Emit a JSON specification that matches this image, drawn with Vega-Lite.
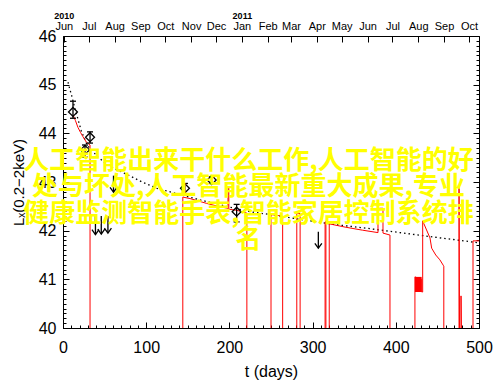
{
  "$schema": "https://vega.github.io/schema/vega-lite/v6.json",
  "width": 416,
  "height": 292,
  "autosize": "none",
  "padding": {"left": 63, "top": 36, "right": 21, "bottom": 57},
  "background": "white",
  "config": {
    "view": {"stroke": null},
    "axis": {
      "grid": false,
      "domainColor": "black",
      "tickColor": "black",
      "labelColor": "black",
      "titleColor": "black",
      "labelFont": "Liberation Sans",
      "titleFont": "Liberation Sans",
      "titleFontWeight": "normal",
      "labelFlush": false,
      "labelOverlap": false,
      "domainWidth": 1,
      "tickWidth": 1
    }
  },
  "datasets": {
    "dotted": [
      {"t": 6, "L": 45.05}, {"t": 8, "L": 44.92}, {"t": 10, "L": 44.8}, {"t": 13, "L": 44.6},
      {"t": 17, "L": 44.35}, {"t": 22, "L": 44.05}, {"t": 29, "L": 43.76}, {"t": 36, "L": 43.62},
      {"t": 45, "L": 43.47}, {"t": 51, "L": 43.38}, {"t": 65, "L": 43.25}, {"t": 80, "L": 43.13},
      {"t": 95, "L": 43.0}, {"t": 113, "L": 42.87}, {"t": 141, "L": 42.74}, {"t": 165, "L": 42.63},
      {"t": 180, "L": 42.57}, {"t": 201, "L": 42.48}, {"t": 225, "L": 42.39}, {"t": 257, "L": 42.31},
      {"t": 285, "L": 42.23}, {"t": 325, "L": 42.13}, {"t": 365, "L": 42.05}, {"t": 405, "L": 41.96},
      {"t": 445, "L": 41.87}, {"t": 473, "L": 41.81}, {"t": 500, "L": 41.75}
    ],
    "red": [
      {"i": 1, "t": 12, "L": 44.38}, {"i": 2, "t": 15, "L": 44.26}, {"i": 3, "t": 18, "L": 44.12},
      {"i": 4, "t": 21, "L": 44.02}, {"i": 5, "t": 24, "L": 43.93}, {"i": 6, "t": 28, "L": 43.82},
      {"i": 7, "t": 32.5, "L": 43.76}, {"i": 8, "t": 32.5, "L": 39.9}, {"i": 9, "t": 144, "L": 39.9},
      {"i": 10, "t": 144, "L": 42.69}, {"i": 11, "t": 152.6, "L": 42.66}, {"i": 12, "t": 172.7, "L": 42.56},
      {"i": 13, "t": 188.7, "L": 42.49}, {"i": 14, "t": 198.3, "L": 42.46}, {"i": 15, "t": 198.3, "L": 42.88},
      {"i": 16, "t": 199.3, "L": 42.88}, {"i": 17, "t": 199.3, "L": 42.44}, {"i": 18, "t": 208.7, "L": 42.42},
      {"i": 19, "t": 221, "L": 42.36}, {"i": 20, "t": 221, "L": 39.9}, {"i": 21, "t": 250, "L": 39.9},
      {"i": 22, "t": 250, "L": 42.33}, {"i": 23, "t": 264, "L": 42.3}, {"i": 24, "t": 264, "L": 39.9},
      {"i": 25, "t": 281, "L": 39.9}, {"i": 26, "t": 281, "L": 42.36}, {"i": 27, "t": 285, "L": 42.35},
      {"i": 28, "t": 285, "L": 39.9}, {"i": 29, "t": 315, "L": 39.9}, {"i": 30, "t": 315, "L": 42.18},
      {"i": 31, "t": 316, "L": 42.18}, {"i": 32, "t": 316, "L": 39.9}, {"i": 33, "t": 320, "L": 39.9},
      {"i": 34, "t": 320, "L": 42.14}, {"i": 35, "t": 340, "L": 42.07}, {"i": 36, "t": 360, "L": 42.01},
      {"i": 37, "t": 378.6, "L": 41.96}, {"i": 38, "t": 378.6, "L": 42.46}, {"i": 39, "t": 384.6, "L": 42.46},
      {"i": 40, "t": 384.6, "L": 41.95}, {"i": 41, "t": 393, "L": 41.91}, {"i": 42, "t": 393, "L": 39.9},
      {"i": 43, "t": 423, "L": 39.9}, {"i": 44, "t": 423, "L": 41.05}, {"i": 45, "t": 431.1, "L": 41.0},
      {"i": 46, "t": 431.1, "L": 40.74}, {"i": 47, "t": 432.3, "L": 40.74}, {"i": 48, "t": 432.3, "L": 42.2},
      {"i": 49, "t": 441.1, "L": 41.85}, {"i": 50, "t": 443.1, "L": 41.64}, {"i": 51, "t": 448, "L": 41.5},
      {"i": 52, "t": 453, "L": 41.4}, {"i": 53, "t": 457, "L": 41.29}, {"i": 54, "t": 457.7, "L": 41.27},
      {"i": 55, "t": 457.7, "L": 39.9}, {"i": 56, "t": 476, "L": 39.9}, {"i": 57, "t": 476, "L": 42.9},
      {"i": 58, "t": 476.6, "L": 39.9}, {"i": 59, "t": 478.4, "L": 39.9}, {"i": 60, "t": 478.4, "L": 40.66},
      {"i": 61, "t": 478.9, "L": 39.9}, {"i": 62, "t": 492.8, "L": 39.9}, {"i": 63, "t": 492.8, "L": 41.79},
      {"i": 64, "t": 500, "L": 41.79}
    ],
    "block": [
      {"t1": 423, "t2": 431.1, "lo": 40.74, "hi": 41.05}
    ],
    "pts": [
      {"t": 12, "L": 44.44, "lo": 44.31, "hi": 44.66},
      {"t": 26.4, "L": 43.66, "lo": 43.51, "hi": 43.76},
      {"t": 32.5, "L": 43.92, "lo": 43.8, "hi": 44.03},
      {"t": 146.6, "L": 42.87, "lo": 42.73, "hi": 42.97},
      {"t": 178.7, "L": 43.04, "lo": 42.97, "hi": 43.11},
      {"t": 208.7, "L": 42.39, "lo": 42.18, "hi": 42.54}
    ],
    "arrows": [
      {"t": 39, "top": 42.3, "tip": 41.92},
      {"t": 46, "top": 42.3, "tip": 41.93},
      {"t": 54, "top": 42.3, "tip": 41.95},
      {"t": 60.7, "top": 43.13, "tip": 42.79},
      {"t": 306.9, "top": 41.98, "tip": 41.64}
    ],
    "note": [
      {"t": 223, "L": 43.44, "txt": "人工智能出来干什么工作,人工智能的好\n处与坏处,人工智能最新重大成果,专业\n健康监测智能手表,智能家居控制系统排\n名"}
    ]
  },
  "layer": [
    {
      "data": {"name": "dotted"},
      "mark": {"type": "line", "color": "black", "strokeWidth": 1.3, "strokeDash": [1.5, 3]},
      "encoding": {
        "x": {"field": "t", "type": "quantitative", "scale": {"domain": [0, 500], "nice": false, "zero": false},
          "axis": {"orient": "bottom", "values": [0, 100, 200, 300, 400, 500], "format": "d", "tickSize": -6, "labelPadding": 17, "labelFontSize": 16, "title": "t (days)", "titleFontSize": 16, "titlePadding": 8}},
        "y": {"field": "L", "type": "quantitative", "scale": {"domain": [40, 46], "nice": false, "zero": false},
          "axis": {"orient": "left", "values": [40, 41, 42, 43, 44, 45, 46], "format": "d", "tickSize": -6, "labelPadding": 13, "labelFontSize": 16, "title": "Lₓ(0.2−2keV)", "titleFontSize": 15, "titlePadding": 12}}
      }
    },
    {
      "data": {"name": "red"},
      "mark": {"type": "line", "color": "#ff0000", "strokeWidth": 1, "clip": true},
      "encoding": {
        "x": {"field": "t", "type": "quantitative", "scale": {"domain": [0, 500], "nice": false, "zero": false},
          "axis": {"orient": "bottom", "values": [0,10,20,30,40,50,60,70,80,90,100,110,120,130,140,150,160,170,180,190,200,210,220,230,240,250,260,270,280,290,300,310,320,330,340,350,360,370,380,390,400,410,420,430,440,450,460,470,480,490,500], "tickSize": -3, "labels": false, "domain": false, "title": null}},
        "y": {"field": "L", "type": "quantitative", "scale": {"domain": [40, 46], "nice": false, "zero": false},
          "axis": {"orient": "left", "values": [40,40.1,40.2,40.3,40.4,40.5,40.6,40.7,40.8,40.9,41,41.1,41.2,41.3,41.4,41.5,41.6,41.7,41.8,41.9,42,42.1,42.2,42.3,42.4,42.5,42.6,42.7,42.8,42.9,43,43.1,43.2,43.3,43.4,43.5,43.6,43.7,43.8,43.9,44,44.1,44.2,44.3,44.4,44.5,44.6,44.7,44.8,44.9,45,45.1,45.2,45.3,45.4,45.5,45.6,45.7,45.8,45.9,46], "tickSize": -3, "labels": false, "domain": false, "title": null}},
        "order": {"field": "i", "type": "quantitative"}
      }
    },
    {
      "data": {"name": "block"},
      "mark": {"type": "rect", "color": "#ff0000"},
      "encoding": {
        "x": {"field": "t1", "type": "quantitative", "scale": {"domain": [0, 500], "nice": false, "zero": false}, "axis": null},
        "x2": {"field": "t2"},
        "y": {"field": "lo", "type": "quantitative", "scale": {"domain": [40, 46], "nice": false, "zero": false}, "axis": null},
        "y2": {"field": "hi"}
      }
    },
    {
      "data": {"name": "pts"},
      "mark": {"type": "rule", "color": "black", "strokeWidth": 1.3},
      "encoding": {
        "x": {"field": "t", "type": "quantitative", "scale": {"domain": [0, 500], "nice": false, "zero": false},
          "axis": {"orient": "top", "values": [1,31,62,93,123,154,184,215,246,274,305,335,366,396,427,458,488], "labelExpr": "['Jun','Jul','Aug','Sep','Oct','Nov','Dec','Jan','Feb','Mar','Apr','May','Jun','Jul','Aug','Sep','Oct'][indexof([1,31,62,93,123,154,184,215,246,274,305,335,366,396,427,458,488], datum.value)]", "tickSize": -6, "labelPadding": 11, "labelFontSize": 11, "title": null}},
        "y": {"field": "lo", "type": "quantitative", "scale": {"domain": [40, 46], "nice": false, "zero": false},
          "axis": {"orient": "right", "values": [40, 41, 42, 43, 44, 45, 46], "tickSize": -6, "labels": false, "title": null}},
        "y2": {"field": "hi"}
      }
    },
    {
      "data": {"name": "pts"},
      "mark": {"type": "point", "shape": "M-1,0L1,0", "size": 36, "filled": false, "stroke": "black", "strokeWidth": 1.3, "opacity": 1},
      "encoding": {
        "x": {"field": "t", "type": "quantitative", "scale": {"domain": [0, 500], "nice": false, "zero": false},
          "axis": {"orient": "top", "values": [1, 215], "labelExpr": "datum.value < 100 ? '2010' : '2011'", "ticks": false, "domain": false, "labelPadding": 16, "labelFontSize": 9, "labelFontWeight": "bold", "title": null}},
        "y": {"field": "lo", "type": "quantitative", "scale": {"domain": [40, 46], "nice": false, "zero": false},
          "axis": {"orient": "right", "values": [40,40.1,40.2,40.3,40.4,40.5,40.6,40.7,40.8,40.9,41,41.1,41.2,41.3,41.4,41.5,41.6,41.7,41.8,41.9,42,42.1,42.2,42.3,42.4,42.5,42.6,42.7,42.8,42.9,43,43.1,43.2,43.3,43.4,43.5,43.6,43.7,43.8,43.9,44,44.1,44.2,44.3,44.4,44.5,44.6,44.7,44.8,44.9,45,45.1,45.2,45.3,45.4,45.5,45.6,45.7,45.8,45.9,46], "tickSize": -3, "labels": false, "domain": false, "title": null}}
      }
    },
    {
      "data": {"name": "pts"},
      "mark": {"type": "point", "shape": "M-1,0L1,0", "size": 36, "filled": false, "stroke": "black", "strokeWidth": 1.3, "opacity": 1},
      "encoding": {
        "x": {"field": "t", "type": "quantitative", "scale": {"domain": [0, 500], "nice": false, "zero": false}, "axis": null},
        "y": {"field": "hi", "type": "quantitative", "scale": {"domain": [40, 46], "nice": false, "zero": false}, "axis": null}
      }
    },
    {
      "data": {"name": "pts"},
      "mark": {"type": "point", "shape": "diamond", "size": 80, "filled": false, "stroke": "black", "strokeWidth": 1.3, "opacity": 1},
      "encoding": {
        "x": {"field": "t", "type": "quantitative", "scale": {"domain": [0, 500], "nice": false, "zero": false}, "axis": null},
        "y": {"field": "L", "type": "quantitative", "scale": {"domain": [40, 46], "nice": false, "zero": false}, "axis": null}
      }
    },
    {
      "data": {"name": "arrows"},
      "mark": {"type": "rule", "color": "black", "strokeWidth": 1.3},
      "encoding": {
        "x": {"field": "t", "type": "quantitative", "scale": {"domain": [0, 500], "nice": false, "zero": false}, "axis": null},
        "y": {"field": "top", "type": "quantitative", "scale": {"domain": [40, 46], "nice": false, "zero": false}, "axis": null},
        "y2": {"field": "tip"}
      }
    },
    {
      "data": {"name": "arrows"},
      "mark": {"type": "point", "shape": "M-1,-1.4L0,0L1,-1.4", "size": 49, "filled": false, "stroke": "black", "strokeWidth": 1.3, "opacity": 1},
      "encoding": {
        "x": {"field": "t", "type": "quantitative", "scale": {"domain": [0, 500], "nice": false, "zero": false}, "axis": null},
        "y": {"field": "tip", "type": "quantitative", "scale": {"domain": [40, 46], "nice": false, "zero": false}, "axis": null}
      }
    },
    {
      "data": {"name": "note"},
      "mark": {"type": "text", "color": "#ffff00", "font": "Noto Sans CJK SC", "fontSize": 26, "fontWeight": "bold", "align": "center", "baseline": "middle", "lineHeight": 26.5, "lineBreak": "\n"},
      "encoding": {
        "x": {"field": "t", "type": "quantitative", "scale": {"domain": [0, 500], "nice": false, "zero": false}, "axis": null},
        "y": {"field": "L", "type": "quantitative", "scale": {"domain": [40, 46], "nice": false, "zero": false}, "axis": null},
        "text": {"field": "txt", "type": "nominal"}
      }
    }
  ],
  "resolve": {
    "scale": {"x": "independent", "y": "independent"},
    "axis": {"x": "independent", "y": "independent"}
  }
}
